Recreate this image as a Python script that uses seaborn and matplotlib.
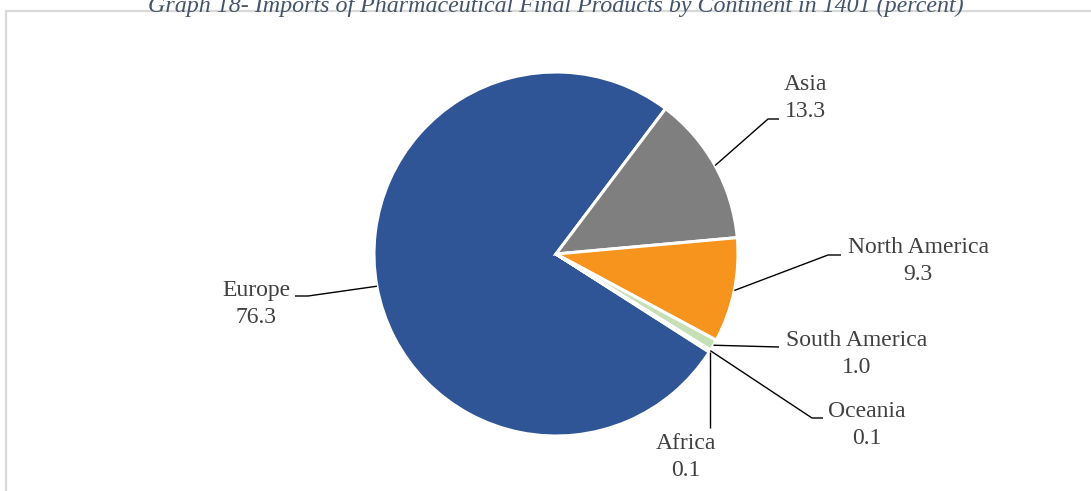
import matplotlib
matplotlib.use("Agg")
import matplotlib.pyplot as plt
import matplotlib.patches as mpatches
import numpy as np
import seaborn as sns

# Import shares by continent (percent)
continents = ["Europe", "Asia", "North America", "South America", "Oceania", "Africa"]
shares = [76.3, 13.3, 9.3, 1.0, 0.1, 0.1]
share_labels = ["76.3", "13.3", "9.3", "1.0", "0.1", "0.1"]
slice_colors = ["#2F5597", "#7F7F7F", "#F7941D", "#C5E0B4", "#A9D18E", "#FFC000"]

title = "Graph 18- Imports of Pharmaceutical Final Products by Continent in 1401 (percent)"

sns.set_theme(style="white")
plt.rcParams["font.family"] = ["Liberation Serif", "DejaVu Serif"]

W, H = 1091, 491
fig = plt.figure(figsize=(W / 100, H / 100), dpi=100)
ax = fig.add_axes([0, 0, 1, 1])


def px(x, y_top):
    """Convert a pixel position measured from the top-left into axes data."""
    return x, H - y_top


center = px(556, 254)
radius = 182
start = 327.4

wedges, _ = ax.pie(
    shares,
    colors=slice_colors,
    startangle=start,
    counterclock=False,
    center=center,
    radius=radius,
    wedgeprops=dict(edgecolor="white", linewidth=2.2),
    frame=True,
)
ax.set_xlim(0, W)
ax.set_ylim(0, H)
ax.set_aspect("equal")
ax.axis("off")

# Label layout: block centre, then connector elbow/end points (top-left pixel frame)
layout = {
    "Europe": dict(text=(256, 304), path=[(308, 296), (295, 296)]),
    "Asia": dict(text=(805, 98), path=[(768, 119), (779, 119)]),
    "North America": dict(text=(918, 261), path=[(828, 255), (841, 255)]),
    "South America": dict(text=(857, 354), path=[(779, 347)]),
    "Oceania": dict(text=(867, 425), path=[(812, 418), (823, 418)]),
    "Africa": dict(text=(686, 457), path=[(710, 428)]),
}

text_color = "#404040"
for w, name, lab in zip(wedges, continents, share_labels):
    mid = np.deg2rad((w.theta1 + w.theta2) / 2)
    ex = center[0] + radius * np.cos(mid)
    ey = center[1] + radius * np.sin(mid)
    spec = layout[name]
    pts = [(ex, ey)] + [px(*p) for p in spec["path"]]
    xs, ys = zip(*pts)
    if name == "Africa":
        xs = (ex, ex)
    ax.plot(xs, ys, color="black", lw=1.0, solid_capstyle="butt", zorder=3)
    tx, ty = px(*spec["text"])
    ax.text(tx, ty, f"{name}\n{lab}", ha="center", va="center",
            multialignment="center", fontsize=17, color=text_color,
            linespacing=1.42)

# Chart area border (runs past the right and bottom edges)
border = mpatches.Rectangle(px(6, 540), 1200, 529, fill=False,
                            edgecolor="#D9D9D9", lw=1.6, clip_on=False)
ax.add_patch(border)

fig.text(556 / W, 1 - 12 / H, title, ha="center", va="baseline",
         fontsize=17.3, style="italic", color="#44546A")

fig.savefig("out.png", dpi=100)
